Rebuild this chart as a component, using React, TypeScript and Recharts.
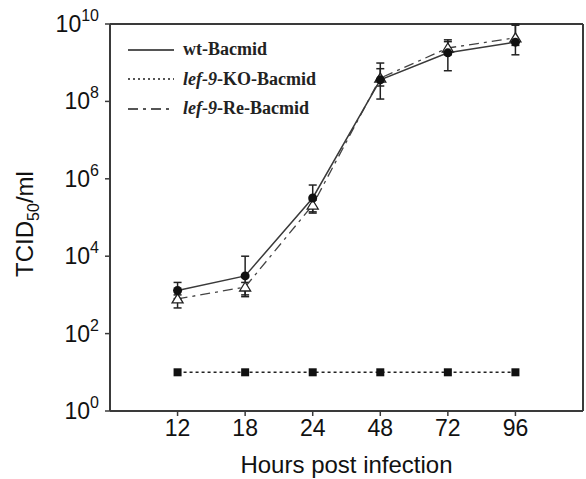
import React from "react";
import {
  ComposedChart,
  Line,
  ErrorBar,
  XAxis,
  YAxis,
  ReferenceLine
} from "recharts";

const hours = ["12", "18", "24", "48", "72", "96"];

const wtTiter = [1.3e3, 3.1e3, 3.2e5, 3.6e8, 1.8e9, 3.4e9];
const wtLow = [8e2, 1e3, 1.3e5, 1.15e8, 6.2e8, 1.6e9];
const wtHigh = [2.1e3, 1e4, 6.9e5, 9.8e8, 3.9e9, 9.3e9];

const koTiter = [10, 10, 10, 10, 10, 10];

const reTiter = [7.9e2, 1.6e3, 2.1e5, 4e8, 2.4e9, 4.4e9];
const reLow = [4.6e2, 9e2, 1.4e5, 2.5e8, 1.6e9, 2.8e9];
const reHigh = [1e3, 2.1e3, 2.8e5, 7e8, 3.5e9, 1e10];

const yTicks = [1, 1e2, 1e4, 1e6, 1e8, 1e10];

const data = hours.map((h, i) => ({
  x: i + 1,
  hour: h,
  wt: wtTiter[i],
  wtErr: [wtTiter[i] - wtLow[i], wtHigh[i] - wtTiter[i]],
  ko: koTiter[i],
  re: reTiter[i],
  reErr: [reTiter[i] - reLow[i], reHigh[i] - reTiter[i]]
}));

const sans = "'Liberation Sans', Arial, sans-serif";
const serif = "'Liberation Serif', 'Times New Roman', serif";
const ink = "#3a3a3a";

function YTick({ x, y, payload }: any) {
  const exp = Math.round(Math.log10(payload.value));
  return (
    <text x={x} y={y} textAnchor="end" fontFamily={sans} fontSize={23} fill="#111" dy={8}>
      <tspan>10</tspan>
      <tspan dy={-11} fontSize={16}>
        {exp}
      </tspan>
    </text>
  );
}

function XTick({ x, y, payload }: any) {
  return (
    <text x={x} y={y} textAnchor="middle" fontFamily={sans} fontSize={23} fill="#111" dy={18}>
      {hours[payload.value - 1]}
    </text>
  );
}

function Circle({ cx, cy, index }: any) {
  return <circle key={`c${index}`} cx={cx} cy={cy} r={4.5} fill="#111" />;
}

function Square({ cx, cy, index }: any) {
  return <rect key={`s${index}`} x={cx - 4} y={cy - 4} width={8} height={8} fill="#111" />;
}

function Triangle({ cx, cy, index }: any) {
  return (
    <polygon
      key={`t${index}`}
      points={`${cx},${cy - 5} ${cx - 5.5},${cy + 4} ${cx + 5.5},${cy + 4}`}
      fill="#fff"
      stroke="#222"
      strokeWidth={1.3}
    />
  );
}

const legendItems = [
  { label: "wt-Bacmid", dash: undefined, italic: "" },
  { label: "-KO-Bacmid", dash: "2 3", italic: "lef-9" },
  { label: "-Re-Bacmid", dash: "10 5 3 5", italic: "lef-9" }
];

export default function App() {
  return (
    <div style={{ position: "absolute", left: 0, top: 0, width: 586, height: 479, background: "#fff" }}>
      <ComposedChart width={586} height={479} data={data} margin={{ top: 24, right: 3, bottom: 0, left: 0 }}>
        <XAxis
          dataKey="x"
          type="number"
          domain={[0, 7]}
          ticks={[1, 2, 3, 4, 5, 6]}
          tick={<XTick />}
          tickSize={5}
          tickLine={{ stroke: ink, strokeWidth: 1.5 }}
          axisLine={{ stroke: ink, strokeWidth: 2 }}
          height={68}
          label={{
            value: "Hours post infection",
            position: "insideBottom",
            offset: 6,
            fontFamily: sans,
            fontSize: 24,
            fill: "#111"
          }}
        />
        <YAxis
          type="number"
          scale="log"
          domain={[1, 1e10]}
          ticks={yTicks}
          allowDataOverflow
          width={110}
          tick={<YTick />}
          tickSize={5}
          tickMargin={6}
          tickLine={{ stroke: ink, strokeWidth: 1.5 }}
          axisLine={{ stroke: ink, strokeWidth: 2 }}
        />
        <ReferenceLine y={1e10} stroke={ink} strokeWidth={2} />
        <ReferenceLine x={7} stroke={ink} strokeWidth={2} />
        <Line
          dataKey="ko"
          stroke="#222"
          strokeWidth={1.5}
          strokeDasharray="3 3"
          dot={<Square />}
          isAnimationActive={false}
        />
        <Line
          dataKey="re"
          stroke="#444"
          strokeWidth={1.3}
          strokeDasharray="10 5 3 5"
          dot={<Triangle />}
          isAnimationActive={false}
        >
          <ErrorBar dataKey="reErr" width={4} stroke="#222" strokeWidth={1.5} direction="y" />
        </Line>
        <Line
          dataKey="wt"
          stroke={ink}
          strokeWidth={1.5}
          dot={<Circle />}
          isAnimationActive={false}
        >
          <ErrorBar dataKey="wtErr" width={4} stroke="#222" strokeWidth={1.5} direction="y" />
        </Line>
      </ComposedChart>

      <div
        style={{
          position: "absolute",
          left: 27,
          top: 224,
          transform: "translate(-50%, -50%) rotate(-90deg)",
          fontFamily: sans,
          fontSize: 24,
          color: "#111",
          whiteSpace: "nowrap"
        }}
      >
        TCID<sub style={{ fontSize: 16 }}>50</sub>/ml
      </div>

      <div style={{ position: "absolute", left: 126, top: 35 }}>
        {legendItems.map((it) => (
          <div key={it.label} style={{ display: "flex", alignItems: "center", height: 29.5 }}>
            <svg width={50} height={10}>
              <line x1={2} y1={5} x2={48} y2={5} stroke="#555" strokeWidth={2} strokeDasharray={it.dash} />
            </svg>
            <span
              style={{
                marginLeft: 7,
                fontFamily: serif,
                fontWeight: "bold",
                fontSize: 18,
                color: "#222",
                whiteSpace: "nowrap"
              }}
            >
              {it.italic ? <i>{it.italic}</i> : null}
              {it.label}
            </span>
          </div>
        ))}
      </div>
    </div>
  );
}
